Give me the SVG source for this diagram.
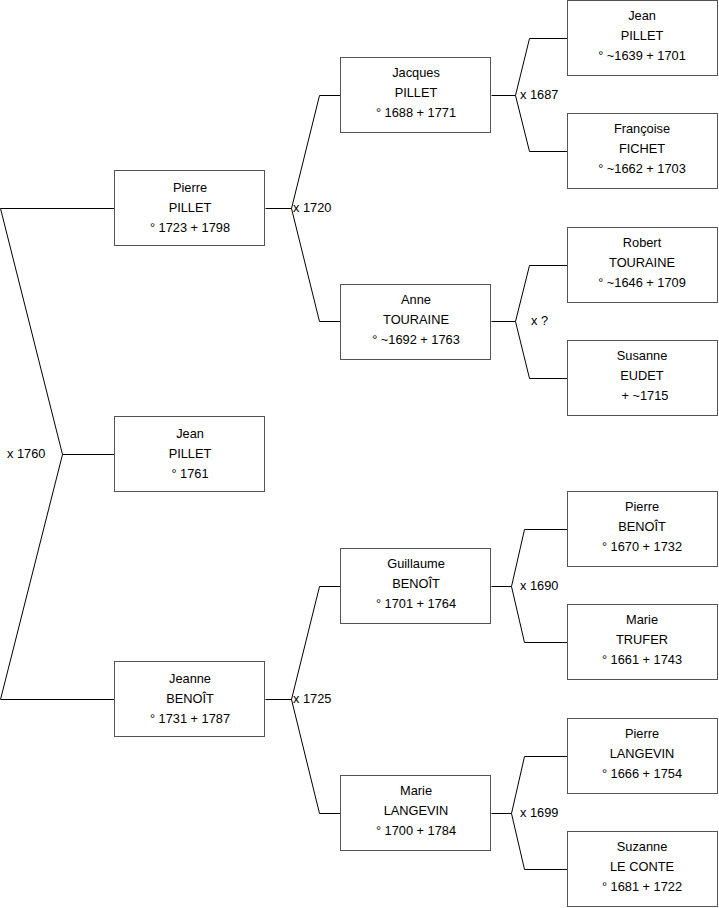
<svg xmlns="http://www.w3.org/2000/svg" width="719" height="908" viewBox="0 0 719 908">
<style>
.box rect{fill:#fff;stroke:#555;stroke-width:1}
text{font-family:"Liberation Sans",Arial,sans-serif;font-size:12.8px;fill:#000}
.box text{text-anchor:middle}
.conn path{fill:none;stroke:#000;stroke-width:1}
</style>
<rect width="719" height="908" fill="#fff"/>
<g class="conn" id="connectors">
<path d="M114.5,208.5 H0.5 L62.5,454.5 L0.5,699.5 H114.5 M62.5,454.5 H114.5"/>
<path d="M340.5,95.5 H319.5 L291.5,208.5 L319.5,321.5 H340.5 M265.5,208.5 H291.5"/>
<path d="M340.5,586.5 H319.5 L291.5,699.5 L319.5,813.5 H340.5 M265.5,699.5 H291.5"/>
<path d="M567.5,38.5 H529.5 L515.5,95.5 L529.5,151.5 H567.5 M491.5,95.5 H515.5"/>
<path d="M567.5,265.5 H529.5 L515.5,321.5 L529.5,378.5 H567.5 M491.5,321.5 H515.5"/>
<path d="M567.5,529.5 H524.5 L511.5,586.5 L524.5,642.5 H567.5 M491.5,586.5 H511.5"/>
<path d="M567.5,756.5 H524.5 L511.5,813.5 L524.5,869.5 H567.5 M491.5,813.5 H511.5"/>
<text x="7" y="458">x 1760</text>
<text x="293" y="212">x 1720</text>
<text x="293" y="703">x 1725</text>
<text x="520" y="99">x 1687</text>
<text x="531" y="325">x ?</text>
<text x="520" y="590">x 1690</text>
<text x="520" y="817">x 1699</text>
</g>
<g class="box" id="pierre-pillet"><rect x="114.5" y="170.5" width="150" height="75"/><text x="190" y="192">Pierre</text><text x="190" y="212">PILLET</text><text x="190" y="232">° 1723 + 1798</text></g>
<g class="box" id="jean-pillet-1761"><rect x="114.5" y="416.5" width="150" height="75"/><text x="190" y="438">Jean</text><text x="190" y="458">PILLET</text><text x="190" y="478">° 1761</text></g>
<g class="box" id="jeanne-benoit"><rect x="114.5" y="661.5" width="150" height="75"/><text x="190" y="683">Jeanne</text><text x="190" y="703">BENOÎT</text><text x="190" y="723">° 1731 + 1787</text></g>
<g class="box" id="jacques-pillet"><rect x="340.5" y="57.5" width="150" height="75"/><text x="416" y="77">Jacques</text><text x="416" y="97">PILLET</text><text x="416" y="117">° 1688 + 1771</text></g>
<g class="box" id="anne-touraine"><rect x="340.5" y="284.5" width="150" height="75"/><text x="416" y="304">Anne</text><text x="416" y="324">TOURAINE</text><text x="416" y="344">° ~1692 + 1763</text></g>
<g class="box" id="guillaume-benoit"><rect x="340.5" y="548.5" width="150" height="75"/><text x="416" y="568">Guillaume</text><text x="416" y="588">BENOÎT</text><text x="416" y="608">° 1701 + 1764</text></g>
<g class="box" id="marie-langevin"><rect x="340.5" y="775.5" width="150" height="75"/><text x="416" y="795">Marie</text><text x="416" y="815">LANGEVIN</text><text x="416" y="835">° 1700 + 1784</text></g>
<g class="box" id="jean-pillet-1639"><rect x="567.5" y="0.5" width="150" height="75"/><text x="642" y="20">Jean</text><text x="642" y="40">PILLET</text><text x="642" y="60">° ~1639 + 1701</text></g>
<g class="box" id="francoise-fichet"><rect x="567.5" y="113.5" width="150" height="75"/><text x="642" y="133">Françoise</text><text x="642" y="153">FICHET</text><text x="642" y="173">° ~1662 + 1703</text></g>
<g class="box" id="robert-touraine"><rect x="567.5" y="227.5" width="150" height="75"/><text x="642" y="247">Robert</text><text x="642" y="267">TOURAINE</text><text x="642" y="287">° ~1646 + 1709</text></g>
<g class="box" id="susanne-eudet"><rect x="567.5" y="340.5" width="150" height="75"/><text x="642" y="360">Susanne</text><text x="642" y="380">EUDET</text><text x="645" y="400">+ ~1715</text></g>
<g class="box" id="pierre-benoit"><rect x="567.5" y="491.5" width="150" height="75"/><text x="642" y="511">Pierre</text><text x="642" y="531">BENOÎT</text><text x="642" y="551">° 1670 + 1732</text></g>
<g class="box" id="marie-trufer"><rect x="567.5" y="604.5" width="150" height="75"/><text x="642" y="624">Marie</text><text x="642" y="644">TRUFER</text><text x="642" y="664">° 1661 + 1743</text></g>
<g class="box" id="pierre-langevin"><rect x="567.5" y="718.5" width="150" height="75"/><text x="642" y="738">Pierre</text><text x="642" y="758">LANGEVIN</text><text x="642" y="778">° 1666 + 1754</text></g>
<g class="box" id="suzanne-le-conte"><rect x="567.5" y="831.5" width="150" height="75"/><text x="642" y="851">Suzanne</text><text x="642" y="871">LE CONTE</text><text x="642" y="891">° 1681 + 1722</text></g>
</svg>
